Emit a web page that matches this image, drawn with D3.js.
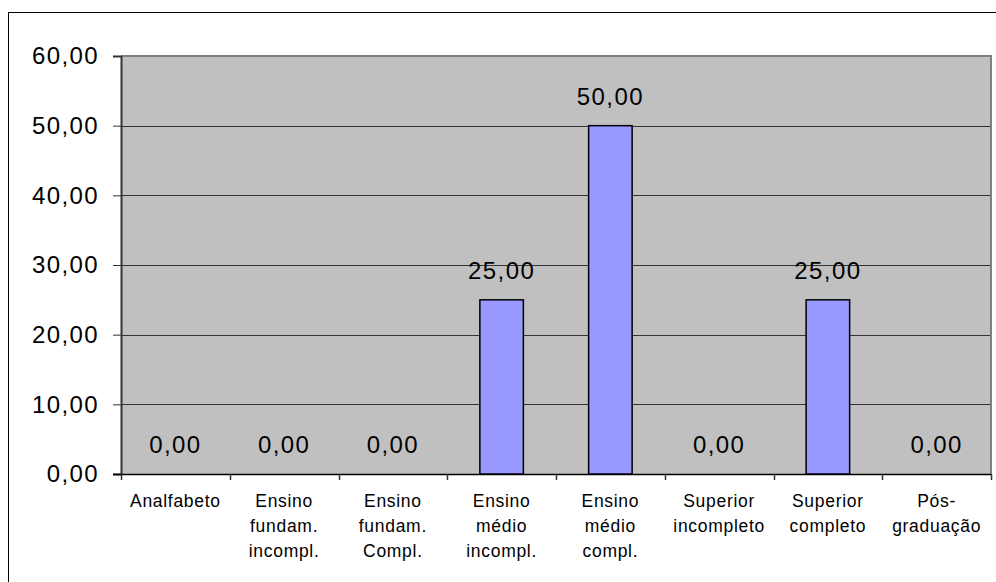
<!DOCTYPE html>
<html>
<head>
<meta charset="utf-8">
<script src="https://cdn.jsdelivr.net/npm/d3@7"></script>
<style>
  html, body { margin: 0; padding: 0; background: #fff; }
  svg { display: block; }
  text { font-family: "Liberation Sans", Arial, sans-serif; fill: #000; }
</style>
</head>
<body>
<svg id="chart" width="996" height="582"></svg>
<script>
// Escolaridade (%)
const categories = [
  ["Analfabeto"],
  ["Ensino", "fundam.", "incompl."],
  ["Ensino", "fundam.", "Compl."],
  ["Ensino", "médio", "incompl."],
  ["Ensino", "médio", "compl."],
  ["Superior", "incompleto"],
  ["Superior", "completo"],
  ["Pós-", "graduação"]
];
const values = [0, 0, 0, 25, 50, 0, 25, 0];
const yTicks = [0, 10, 20, 30, 40, 50, 60];

const svg = d3.select("#chart");
const fmt = v => d3.format(".2f")(v).replace(".", ",");

// outer chart frame
svg.append("rect")
  .attr("x", 8.5).attr("y", 12.5)
  .attr("width", 1000).attr("height", 600)
  .attr("fill", "none").attr("stroke", "#000").attr("stroke-width", 1);

const plot = { left: 121, right: 991, top: 56, bottom: 474 };

const x = d3.scaleBand()
  .domain(d3.range(categories.length))
  .range([plot.left, plot.right])
  .paddingInner(0.6).paddingOuter(0.3);
const xOuter = d3.scaleBand()
  .domain(d3.range(categories.length))
  .range([plot.left, plot.right]);
const y = d3.scaleLinear().domain([0, 60]).range([plot.bottom, plot.top]);

// plot background
svg.append("rect")
  .attr("x", plot.left).attr("y", plot.top)
  .attr("width", plot.right - plot.left).attr("height", plot.bottom - plot.top)
  .attr("fill", "#c0c0c0");

// gridlines
svg.append("g").selectAll("line")
  .data(yTicks.filter(t => t > 0 && t < 60))
  .join("line")
  .attr("x1", plot.left).attr("x2", plot.right)
  .attr("y1", d => Math.round(y(d)) + 0.5).attr("y2", d => Math.round(y(d)) + 0.5)
  .attr("stroke", "#333").attr("stroke-width", 1);

// plot border (top & right)
svg.append("path")
  .attr("d", `M${plot.left},${plot.top} H${plot.right} V${plot.bottom}`)
  .attr("fill", "none").attr("stroke", "#808080").attr("stroke-width", 2);

// y axis
const yAxis = svg.append("g")
  .attr("transform", `translate(${plot.left},0)`)
  .call(d3.axisLeft(y).tickValues(yTicks).tickFormat(fmt).tickSize(8).tickPadding(14));
yAxis.select(".domain").attr("stroke", "#333").attr("stroke-width", 2);
yAxis.selectAll(".tick line").attr("stroke", "#333");
yAxis.selectAll(".tick text")
  .attr("font-size", 24).attr("letter-spacing", "1.4px")
  .attr("font-family", "'Liberation Sans', Arial, sans-serif")
  .attr("fill", "#000");

// x axis with ticks at category boundaries
const xg = svg.append("g");
xg.append("line")
  .attr("x1", plot.left - 8).attr("x2", plot.right)
  .attr("y1", plot.bottom + 0.5).attr("y2", plot.bottom + 0.5)
  .attr("stroke", "#000").attr("stroke-width", 1.5);
const bounds = d3.range(categories.length + 1).map(i =>
  i < categories.length ? xOuter(i) : xOuter(i - 1) + xOuter.bandwidth());
xg.selectAll("line.tk").data(bounds).join("line").attr("class", "tk")
  .attr("x1", d => Math.round(d) + 0.5).attr("x2", d => Math.round(d) + 0.5)
  .attr("y1", plot.bottom).attr("y2", plot.bottom + 6)
  .attr("stroke", "#333").attr("stroke-width", 1.5);

// category labels
const lab = svg.append("g").selectAll("text")
  .data(categories).join("text")
  .attr("text-anchor", "middle")
  .attr("font-size", 17.5)
  .attr("letter-spacing", "0.7px")
  .attr("transform", (d, i) => `translate(${xOuter(i) + xOuter.bandwidth() / 2},507)`);
lab.selectAll("tspan").data(d => d).join("tspan")
  .attr("x", 0).attr("y", (d, j) => j * 25)
  .text(d => d);

// bars
svg.append("g").selectAll("rect")
  .data(values).join("rect")
  .attr("x", (d, i) => x(i))
  .attr("width", x.bandwidth())
  .attr("y", d => y(d))
  .attr("height", d => y(0) - y(d))
  .attr("fill", "#9999ff")
  .attr("stroke", "#000").attr("stroke-width", d => d > 0 ? 1.5 : 0);

// value labels
svg.append("g").selectAll("text")
  .data(values).join("text")
  .attr("text-anchor", "middle")
  .attr("font-size", 24).attr("letter-spacing", "1.4px")
  .attr("x", (d, i) => x(i) + x.bandwidth() / 2)
  .attr("y", d => y(d) - 21)
  .text(fmt);
</script>
</body>
</html>
